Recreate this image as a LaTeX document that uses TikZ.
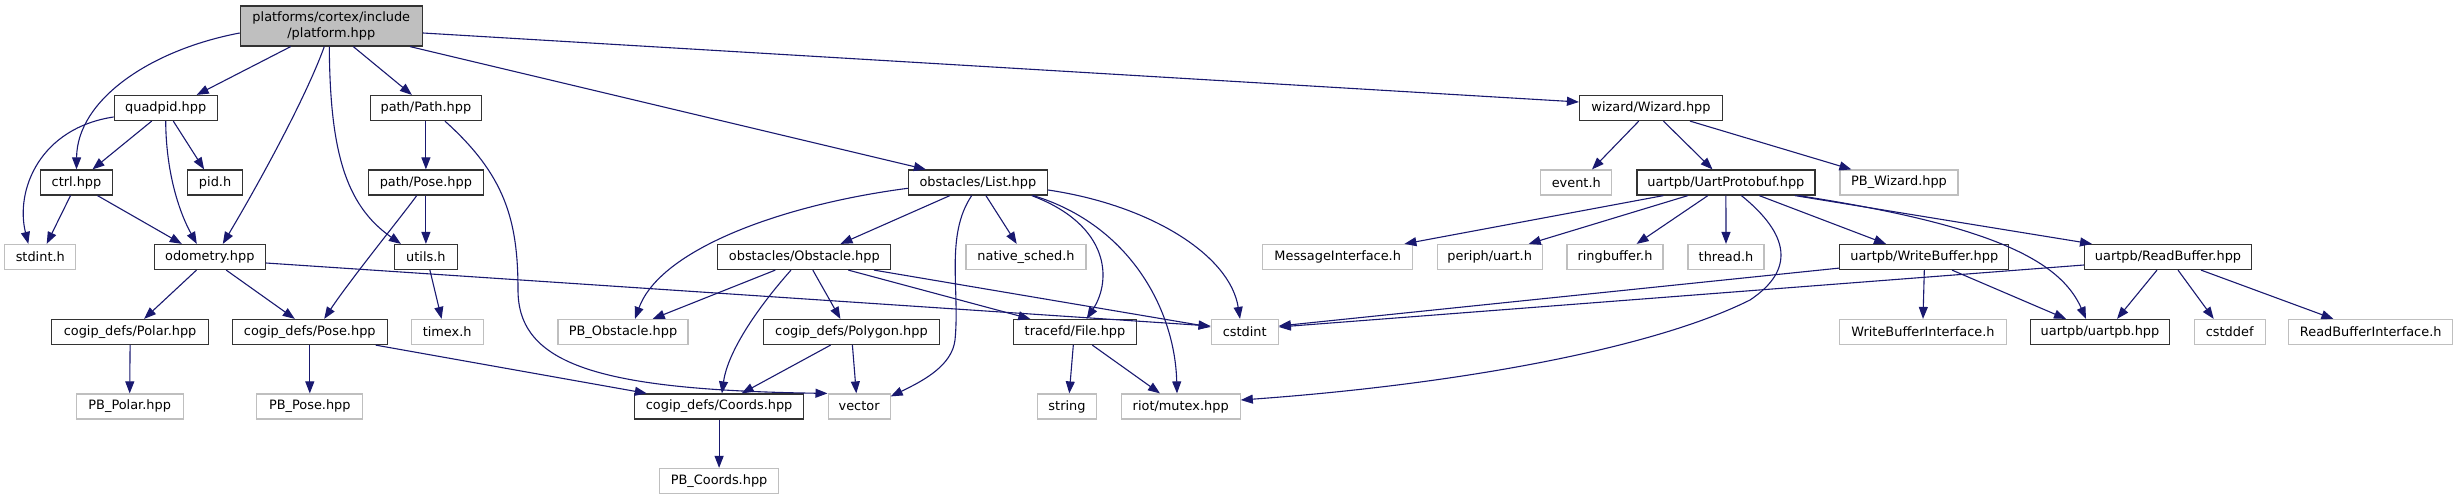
\documentclass[tikz,border=0pt]{standalone}
\usepackage{fontspec}
\setmainfont{DejaVu Sans}
\usetikzlibrary{arrows.meta,calc}
\definecolor{edgec}{HTML}{191970}
\definecolor{lgray}{HTML}{BFBFBF}
\definecolor{dgray}{HTML}{333333}
\begin{document}
\begin{tikzpicture}[x=1pt,y=-1pt,
  box/.style={draw=dgray,line width=1.2pt,minimum height=25pt,inner sep=0pt,font=\fontsize{12.9}{15.5}\selectfont},
  ext/.style={box,draw=lgray},
  root/.style={box,fill=lgray,minimum height=40pt,align=center},
  edge/.style={draw=edgec,line width=1.1pt,-{Triangle[length=12pt,width=9pt]}}]
\useasboundingbox (0,0) rectangle (2459,500);
% nodes
\node[root,minimum width=182pt] (platform) at (331.3,26) {platforms/cortex/include\\/platform.hpp};
\node[box,minimum width=103pt] (quadpid) at (165.7,108) {quadpid.hpp};
\node[box,minimum width=111pt] (path) at (425.9,108) {path/Path.hpp};
\node[box,minimum width=72pt] (ctrl) at (76.5,182.5) {ctrl.hpp};
\node[box,minimum width=55pt] (pid) at (215.1,182.5) {pid.h};
\node[box,minimum width=115pt] (pathpose) at (425.9,182.5) {path/Pose.hpp};
\node[ext,minimum width=71pt] (stdint) at (40.3,257) {stdint.h};
\node[box,minimum width=111pt] (odometry) at (209.8,257) {odometry.hpp};
\node[box,minimum width=63pt] (utils) at (425.9,257) {utils.h};
\node[box,minimum width=157pt] (polar) at (130.1,332) {cogip\_defs/Polar.hpp};
\node[box,minimum width=155pt] (cpose) at (309.8,332) {cogip\_defs/Pose.hpp};
\node[ext,minimum width=72pt] (timex) at (447.2,332) {timex.h};
\node[ext,minimum width=107pt] (pbpolar) at (129.7,406.5) {PB\_Polar.hpp};
\node[ext,minimum width=106pt] (pbpose) at (309.8,406.5) {PB\_Pose.hpp};
\node[box,minimum width=139pt] (list) at (977.9,182.5) {obstacles/List.hpp};
\node[box,minimum width=173pt] (obstacle) at (804.3,257) {obstacles/Obstacle.hpp};
\node[ext,minimum width=120pt] (nsched) at (1026,257) {native\_sched.h};
\node[ext,minimum width=130pt] (pbobst) at (623,332) {PB\_Obstacle.hpp};
\node[box,minimum width=176pt] (polygon) at (851.4,332) {cogip\_defs/Polygon.hpp};
\node[box,minimum width=123pt] (file) at (1075,332) {tracefd/File.hpp};
\node[ext,minimum width=67pt] (cstdint) at (1244.7,332) {cstdint};
\node[box,minimum width=169pt] (coords) at (719.1,406.5) {cogip\_defs/Coords.hpp};
\node[ext,minimum width=62pt] (vector) at (859.1,406.5) {vector};
\node[ext,minimum width=59pt] (string) at (1067,406.5) {string};
\node[ext,minimum width=119pt] (mutex) at (1180.7,406.5) {riot/mutex.hpp};
\node[ext,minimum width=119pt] (pbcoords) at (719.1,481) {PB\_Coords.hpp};
\node[box,minimum width=143pt] (wizard) at (1651,108) {wizard/Wizard.hpp};
\node[ext,minimum width=71pt] (event) at (1576.3,182.5) {event.h};
\node[box,minimum width=178pt] (uartproto) at (1725.9,182.5) {uartpb/UartProtobuf.hpp};
\node[ext,minimum width=118pt] (pbwizard) at (1899,182.5) {PB\_Wizard.hpp};
\node[ext,minimum width=150pt] (msgif) at (1337.7,257) {MessageInterface.h};
\node[ext,minimum width=105pt] (uart) at (1489.7,257) {periph/uart.h};
\node[ext,minimum width=96pt] (ringbuf) at (1615,257) {ringbuffer.h};
\node[ext,minimum width=76pt] (thread) at (1726,257) {thread.h};
\node[box,minimum width=169pt] (wbuf) at (1924.3,257) {uartpb/WriteBuffer.hpp};
\node[box,minimum width=167pt] (rbuf) at (2168,257) {uartpb/ReadBuffer.hpp};
\node[ext,minimum width=167pt] (wbif) at (1923,332) {WriteBufferInterface.h};
\node[box,minimum width=139pt] (uartpb) at (2100,332) {uartpb/uartpb.hpp};
\node[ext,minimum width=71pt] (cstddef) at (2229.7,332) {cstddef};
\node[ext,minimum width=164pt] (rbif) at (2370.7,332) {ReadBufferInterface.h};
% edges from platform
\draw[edge] ($(platform.west)+(0,7)$) .. controls (150,50) and (77,100) .. (ctrl.north);
\draw[edge] ($(platform.south)+(-40.6,0)$) -- ($(quadpid.north)+(31,0)$);
\draw[edge] ($(platform.south)+(-7,0)$) .. controls (305,100) and (255,190) .. ($(odometry.north)+(13,0)$);
\draw[edge] ($(platform.south)+(-2,0)$) .. controls (330,150) and (345,205) .. ($(utils.north)+(-25,0)$);
\draw[edge] ($(platform.south)+(22,0)$) -- ($(path.north)+(-14,0)$);
\draw[edge] ($(platform.south)+(78.7,0)$) -- ($(list.north)+(-52,0)$);
\draw[edge] ($(platform.east)+(0,7)$) -- ($(wizard.west)+(0,-6)$);
% quadpid
\draw[edge] ($(quadpid.west)+(0,9)$) .. controls (40,128) and (15,190) .. ($(stdint.north)+(-12,0)$);
\draw[edge] ($(quadpid.south)+(-14,0)$) -- ($(ctrl.north)+(16,0)$);
\draw[edge] (quadpid.south) .. controls (166,170) and (178,210) .. ($(odometry.north)+(-13,0)$);
\draw[edge] ($(quadpid.south)+(7.6,0)$) -- ($(pid.north)+(-11,0)$);
% ctrl
\draw[edge] ($(ctrl.south)+(-6,0)$) -- ($(stdint.north)+(6.4,0)$);
\draw[edge] ($(ctrl.south)+(21,0)$) -- ($(odometry.north)+(-28,0)$);
% path
\draw[edge] (path.south) -- (pathpose.north);
\draw[edge] ($(path.south)+(19,0)$) .. controls (505,175) and (518,220) .. (518,290) .. controls (518,365) and (600,390) .. (vector.north west);
\draw[edge] (pathpose.south) -- (utils.north);
\draw[edge] ($(pathpose.south)+(-9.2,0)$) .. controls (405,212) and (350,280) .. ($(cpose.north)+(14.4,0)$);
% odometry
\draw[edge] ($(odometry.south)+(-13.3,0)$) -- ($(polar.north)+(14,0)$);
\draw[edge] ($(odometry.south)+(16.4,0)$) -- ($(cpose.north)+(-15,0)$);
\draw[edge] ($(odometry.east)+(0,6)$) -- ($(cstdint.west)+(0,-6)$);
\draw[edge] ($(utils.south)+(4,0)$) -- ($(timex.north)+(-5.6,0)$);
\draw[edge] (polar.south) -- (pbpolar.north);
\draw[edge] (cpose.south) -- (pbpose.north);
\draw[edge] ($(cpose.south)+(65.8,0)$) -- ($(coords.north)+(-72.3,0)$);
\draw[edge] (coords.south) -- (pbcoords.north);
% obstacle
\draw[edge] ($(obstacle.south)+(-29,0)$) -- ($(pbobst.north)+(29.7,0)$);
\draw[edge] ($(obstacle.south)+(-13.3,0)$) .. controls (760,305) and (728,350) .. ($(coords.north)+(2.8,0)$);
\draw[edge] ($(obstacle.south)+(8.5,0)$) -- ($(polygon.north)+(-11,0)$);
\draw[edge] ($(obstacle.south)+(44,0)$) -- ($(file.north)+(-44.7,0)$);
\draw[edge] ($(obstacle.south)+(69.7,0)$) -- ($(cstdint.west)+(0,-5)$);
% list
\draw[edge] ($(list.west)+(0,5.8)$) .. controls (780,205) and (660,250) .. ($(pbobst.north)+(12,0)$);
\draw[edge] ($(list.south)+(-28,0)$) -- ($(obstacle.north)+(36.2,0)$);
\draw[edge] ($(list.south)+(-6.2,0)$) .. controls (945,235) and (960,290) .. (955,340) .. controls (952,365) and (925,380) .. ($(vector.north east)+(0,3)$);
\draw[edge] ($(list.south)+(8,0)$) -- ($(nsched.north)+(-9.3,0)$);
\draw[edge] ($(list.south)+(53.8,0)$) .. controls (1110,225) and (1112,280) .. ($(file.north)+(11.7,0)$);
\draw[edge] ($(list.south)+(55.4,0)$) .. controls (1130,225) and (1175,310) .. ($(mutex.north)+(-3.7,0)$);
\draw[edge] ($(list.east)+(0,7.5)$) .. controls (1150,205) and (1230,255) .. ($(cstdint.north)+(-4.7,0)$);
% polygon, file
\draw[edge] ($(polygon.south)+(-20.8,0)$) -- ($(coords.north)+(22.6,0)$);
\draw[edge] ($(polygon.south)+(1,0)$) -- ($(vector.north)+(-2.8,0)$);
\draw[edge] ($(file.south)+(-1.7,0)$) -- ($(string.north)+(2.3,0)$);
\draw[edge] ($(file.south)+(17.3,0)$) -- ($(mutex.north)+(-20.7,0)$);
% wizard
\draw[edge] ($(wizard.south)+(-12.2,0)$) -- ($(event.north)+(15.7,0)$);
\draw[edge] ($(wizard.south)+(12.4,0)$) -- ($(uartproto.north)+(-13.4,0)$);
\draw[edge] ($(wizard.south)+(39,0)$) -- ($(pbwizard.north west)+(12,0)$);
% uartproto
\draw[edge] ($(uartproto.south)+(-62.5,0)$) -- ($(msgif.north)+(66.7,0)$);
\draw[edge] ($(uartproto.south)+(-38,0)$) -- ($(uart.north)+(39,0)$);
\draw[edge] ($(uartproto.south)+(-18,0)$) -- ($(ringbuf.north)+(21.6,0)$);
\draw[edge] (uartproto.south) -- (thread.north);
\draw[edge] ($(uartproto.south)+(15.5,0)$) .. controls (1790,235) and (1795,270) .. (1750,300) .. controls (1650,350) and (1450,385) .. ($(mutex.east)+(0,-6.5)$);
\draw[edge] ($(uartproto.south)+(33.3,0)$) -- ($(wbuf.north)+(-38.3,0)$);
\draw[edge] ($(uartproto.south)+(69,0)$) -- ($(rbuf.north)+(-76,0)$);
\draw[edge] ($(uartproto.south)+(72.6,0)$) .. controls (1990,225) and (2060,260) .. ($(uartpb.north)+(-14,0)$);
% write/read buffers
\draw[edge] ($(wbuf.south west)+(0,-2)$) -- ($(cstdint.east)+(0,-6)$);
\draw[edge] (wbuf.south) -- (wbif.north);
\draw[edge] ($(wbuf.south)+(27.7,0)$) -- ($(uartpb.north)+(-34,0)$);
\draw[edge] ($(rbuf.west)+(0,8)$) -- ($(cstdint.east)+(0,-5)$);
\draw[edge] ($(rbuf.south)+(-11,0)$) -- ($(uartpb.north)+(17,0)$);
\draw[edge] ($(rbuf.south)+(10,0)$) -- ($(cstddef.north)+(-16,0)$);
\draw[edge] ($(rbuf.south)+(33,0)$) -- ($(rbif.north)+(-37.3,0)$);
\end{tikzpicture}
\end{document}
